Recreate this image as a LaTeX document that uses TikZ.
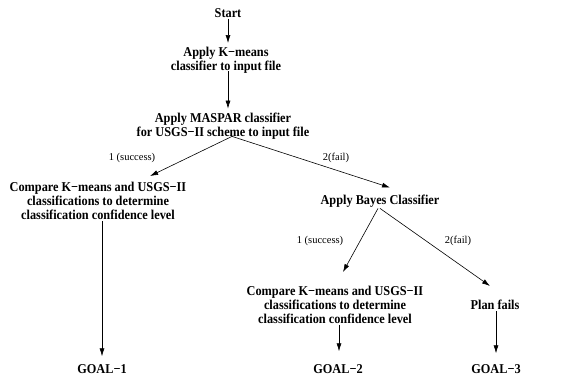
\documentclass[tikz,border=0pt]{standalone}
\usepackage{fontspec}
\setmainfont{Liberation Serif}
\newfontfamily\nodefont[FakeStretch=0.91]{Liberation Serif}
\usetikzlibrary{arrows.meta}
\begin{document}
\begin{tikzpicture}[x=1pt,y=-1pt,
  box/.style={align=center,font=\nodefont\fontsize{13.5}{14}\selectfont\bfseries,inner sep=1pt},
  lab/.style={font=\fontsize{10.5}{12}\selectfont,inner sep=0pt},
  arr/.style={-{Latex[length=8pt,width=5pt]},line width=0.6pt}]
\useasboundingbox (0,0) rectangle (578,380);
\node[box] (start) at (228,13) {Start};
\node[box] (km) at (226,60) {Apply K−means\\classifier to input file};
\node[box] (ms) at (223,126) {Apply MASPAR classifier\\for USGS−II scheme to input file};
\node[box] (c1) at (98,201) {Compare K−means and USGS−II\\classifications to determine\\classification confidence level};
\node[box] (bayes) at (380,201) {Apply Bayes Classifier};
\node[box] (c2) at (335,305) {Compare K−means and USGS−II\\classifications to determine\\classification confidence level};
\node[box] (pf) at (495,305) {Plan fails};
\node[box] (g1) at (102,369) {GOAL−1};
\node[box] (g2) at (338,369) {GOAL−2};
\node[box] (g3) at (496,369) {GOAL−3};
\node[lab] (l1) at (132,158) {1 (success)};
\node[lab] (l2) at (336,158) {2(fail)};
\node[lab] (l3) at (320,241) {1 (success)};
\node[lab] (l4) at (458,241) {2(fail)};
\draw[arr] (start.south) -- (start.south |- 0,43);
\draw[arr] ([xshift=2pt,yshift=3pt]km.south) -- ([xshift=5pt,yshift=3pt]ms.north);
\draw[arr] ([xshift=9pt,yshift=4pt]ms.south) -- ([xshift=52pt,yshift=5pt]c1.north);
\draw[arr] ([xshift=9pt,yshift=4pt]ms.south) -- ([xshift=10pt,yshift=6pt]bayes.north);
\draw[arr] ([xshift=4pt]c1.south) -- ([xshift=0pt,yshift=7pt]g1.north);
\draw[arr] ([xshift=-2pt]bayes.south) -- ([xshift=8pt,yshift=13pt]c2.north);
\draw[arr] (bayes.south) -- ([xshift=-5pt,yshift=13pt]pf.north);
\draw[arr] ([xshift=4pt]c2.south) -- ([xshift=1pt,yshift=12pt]g2.north);
\draw[arr] ([xshift=1pt]pf.south) -- ([xshift=0pt,yshift=10pt]g3.north);
\end{tikzpicture}
\end{document}
